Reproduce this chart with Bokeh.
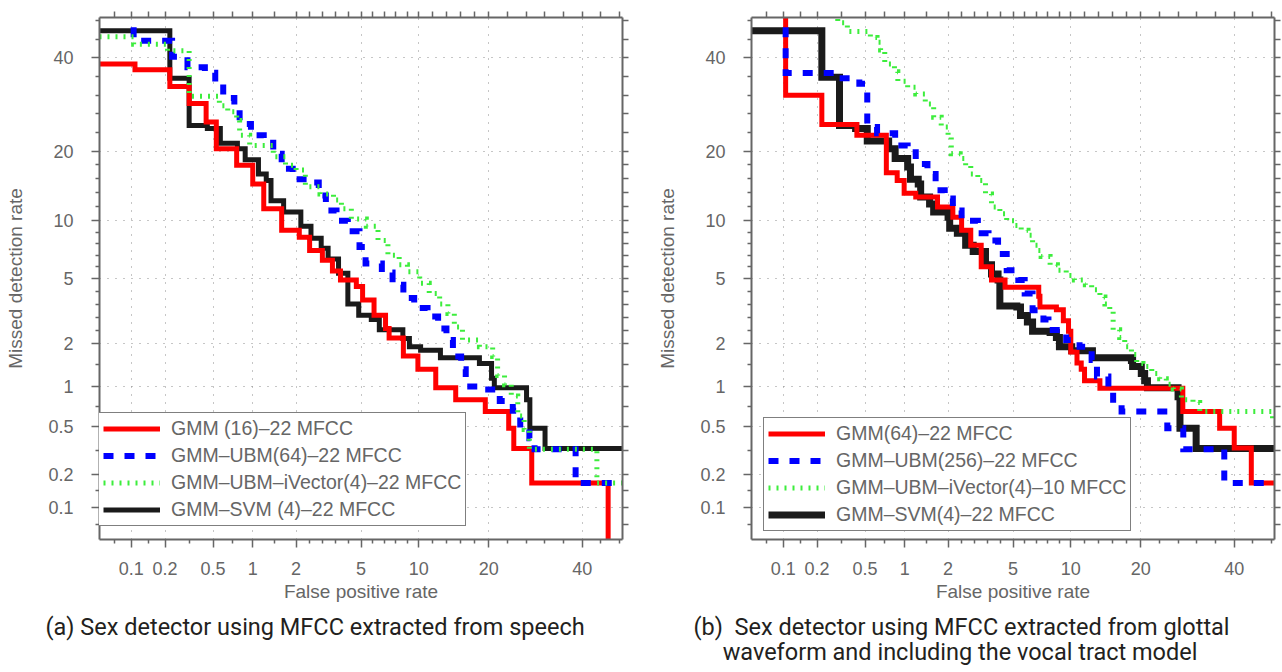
from statistics import NormalDist
from bokeh.plotting import figure
from bokeh.models import (Range1d, LinearAxis, FixedTicker, Grid, CustomJSTickFormatter,
                          Legend, LegendItem, Title)
from bokeh.layouts import row
from bokeh.embed import file_html
from bokeh.resources import INLINE

# ---------------- data (percent) ----------------
tick_pct = [0.1, 0.2, 0.5, 1, 2, 5, 10, 20, 40]
tick_lbl = ["0.1", "0.2", "0.5", "1", "2", "5", "10", "20", "40"]

# panel (a)
a_labels = ["GMM (16)\u201322 MFCC", "GMM\u2013UBM(64)\u201322 MFCC",
            "GMM\u2013UBM\u2013iVector(4)\u201322 MFCC", "GMM\u2013SVM (4)\u201322 MFCC"]
a_red_fpr = [0.05, 0.108, 0.22, 0.32, 0.44, 0.53, 0.76, 1.0, 1.2, 1.6, 2.1, 2.45, 2.95, 3.4, 3.8,
             4.7, 5.1, 5.9, 6.8, 7.1, 8.4, 9.9, 12, 14.7, 19.4, 23.7, 24.7, 28.4, 46.4]
a_red_miss = [38.5, 37.1, 33.2, 29.4, 25.5, 20.4, 17.6, 14.7, 11.4, 9.0, 8.3, 7.1, 6.3, 5.5, 4.9,
              4.5, 3.75, 3.03, 2.5, 2.17, 1.64, 1.33, 0.98, 0.8, 0.65, 0.48, 0.33, 0.167, 0.01]
a_blue_fpr = [0.05, 0.105, 0.23, 0.31, 0.43, 0.52, 0.6, 0.73, 0.8, 0.97, 1.2, 1.4, 1.6, 1.9, 2.4,
              2.8, 3.1, 3.6, 4.2, 4.9, 5.3, 6.5, 7.4, 8.4, 9.5, 11, 12.3, 13.4, 14.3, 15.5,
              16.2, 19, 22, 24.5, 26, 27.9, 29, 38.4]
a_blue_miss = [60, 44.2, 40.2, 37.7, 36.4, 34.2, 30.6, 28.7, 25.1, 22.9, 21.5, 19.5, 17.0, 15.4, 14.9,
               13.1, 11.2, 10.0, 8.9, 7.4, 6.05, 5.4, 4.6, 3.85, 3.35, 2.97, 2.5, 2.1, 1.63, 1.33,
               1.0, 0.95, 0.78, 0.66, 0.48, 0.4, 0.325, 0.167]
a_green_fpr = [0.05, 0.105, 0.21, 0.32, 0.56, 0.65, 0.76, 0.8, 0.95, 1.4, 1.7, 2.0, 2.3, 2.85, 3.45,
               3.85, 4.4, 5.35, 6.2, 7.0, 8.0, 8.8, 10.1, 11.2, 12.5, 13.6, 14.5, 15.7, 18.4, 20.7,
               21.6, 22.9, 24.2, 25.5, 26.8, 27.9, 43.6]
a_green_miss = [45.2, 43.3, 41.7, 31.0, 28.9, 27.6, 25.8, 22.9, 21.0, 19.0, 17.6, 16.8, 14.3, 13.3, 12.5,
                11.4, 10.2, 9.4, 8.0, 6.7, 5.95, 5.45, 4.7, 4.1, 3.55, 3.1, 2.55, 2.1, 1.9, 1.63,
                1.2, 1.03, 0.85, 0.6, 0.47, 0.325, 0.167]
a_black_fpr = [0.05, 0.22, 0.32, 0.45, 0.57, 0.77, 0.88, 1.1, 1.25, 1.35, 1.65, 2.15, 2.5, 2.9, 3.2,
               3.7, 4.2, 4.85, 5.7, 6.3, 8.35, 9.0, 10.2, 12.6, 18.4, 20.5, 21, 27.3, 28, 31.3]
a_black_miss = [46.7, 35.1, 24.8, 24.2, 21.4, 20.4, 18.5, 16.2, 15.2, 12.4, 11.0, 9.4, 8.2, 7.3, 6.4,
                5.35, 3.55, 3.03, 2.85, 2.45, 2.15, 1.9, 1.8, 1.6, 1.46, 1.15, 0.98, 0.8, 0.48, 0.33]

# panel (b)
b_labels = ["GMM(64)\u201322 MFCC", "GMM\u2013UBM(256)\u201322 MFCC",
            "GMM\u2013UBM\u2013iVector(4)\u201310 MFCC", "GMM\u2013SVM(4)\u201322 MFCC"]
b_red_fpr = [0.05, 0.105, 0.22, 0.43, 0.73, 0.88, 0.99, 1.2, 1.7, 2.15, 2.45, 2.8, 3.25, 3.75, 4.5,
             6.9, 7.0, 8.5, 9.2, 9.75, 10.0, 10.7, 11.2, 11.6, 13.6, 28.2, 36.5, 40, 44.2]
b_red_miss = [60, 31.2, 25.0, 22.9, 16.4, 15.2, 13.4, 12.9, 11.6, 10.4, 9.0, 7.55, 5.8, 4.9, 4.45,
              3.95, 3.4, 3.27, 2.8, 2.4, 1.75, 1.47, 1.33, 1.1, 0.97, 0.65, 0.48, 0.333, 0.167]
b_blue_fpr = [0.05, 0.105, 0.3, 0.45, 0.52, 0.62, 0.85, 1.05, 1.2, 1.45, 1.65, 1.9, 2.15, 2.45, 3.1,
              3.6, 4.1, 4.6, 5.35, 5.8, 6.4, 7.3, 7.75, 9.5, 11.0, 12.5, 13.2, 14.8, 15.5, 16.8,
              25, 28.3, 37.6]
b_blue_miss = [60, 36.3, 35.1, 33.8, 24.5, 23.3, 21.0, 19.8, 17.8, 16.2, 13.8, 12.7, 11.2, 10.0, 8.7,
               8.0, 6.8, 5.55, 4.9, 4.1, 3.25, 2.85, 2.44, 2.1, 1.9, 1.54, 1.18, 0.96, 0.75, 0.65,
               0.48, 0.325, 0.167]
b_green_fpr = [0.05, 0.3, 0.36, 0.55, 0.62, 0.66, 0.71, 0.84, 0.89, 1.05, 1.2, 1.4, 1.6, 1.8, 2.0,
               2.1, 2.4, 2.6, 2.8, 3.1, 3.45, 3.75, 4.2, 4.6, 5.1, 5.55, 6.05, 6.4, 6.8, 7.1,
               7.9, 8.6, 9.5, 10.4, 11.7, 12.5, 13.6, 14.3, 15.0, 15.5, 16.5, 17.3, 18.4, 19.3, 20.4,
               22, 23.5, 24.8, 26.2, 27.9, 30.4, 31.9, 49.5]
b_green_miss = [60, 48.7, 46.5, 45.0, 43.8, 41.9, 38.5, 36.6, 34.4, 33.0, 31.5, 29.3, 26.5, 24.5, 22.6,
                19.5, 18.7, 17.5, 16.2, 15.2, 13.3, 11.6, 10.8, 10.0, 9.5, 9.0, 8.5, 7.55, 7.1, 6.6,
                5.95, 5.55, 5.2, 4.9, 4.6, 4.3, 3.9, 3.55, 3.25, 2.45, 2.18, 1.9, 1.68, 1.46, 1.39,
                1.24, 1.14, 1.04, 0.96, 0.8, 0.76, 0.65, 0.53]
b_black_fpr = [0.05, 0.22, 0.31, 0.42, 0.52, 0.76, 0.85, 1.05, 1.1, 1.25, 1.3, 1.5, 1.6, 2.0, 2.05,
               2.3, 2.6, 2.9, 3.45, 3.75, 4.1, 4.2, 5.25, 5.5, 6.0, 6.4, 7.9, 8.5, 8.8, 10.1,
               12.6, 18.4, 18.6, 20.1, 20.7, 21.2, 27.2, 27.6, 31.1]
b_black_miss = [46.7, 35.3, 24.8, 24.2, 21.8, 20.4, 18.7, 17.3, 15.4, 14.7, 12.9, 12.0, 11.0, 10.4, 9.2,
                8.7, 7.55, 7.0, 5.95, 5.3, 4.9, 3.45, 3.4, 3.02, 2.75, 2.4, 2.35, 2.18, 1.9, 1.78,
                1.6, 1.53, 1.39, 1.24, 1.1, 0.98, 0.84, 0.48, 0.33]

caption_a = "(a) Sex detector using MFCC extracted from speech"
caption_b = ("(b)\u00a0 Sex detector using MFCC extracted from glottal\n"
             "\u00a0\u00a0\u00a0\u00a0\u00a0waveform and including the vocal tract model")

# ---------------- helpers ----------------
ND = NormalDist()


def probit(pct):
    return ND.inv_cdf(pct / 100.0)


LO = probit(0.05)
HI = 0.0

mp = [probit(v) for v in tick_pct]
subdiv = [2, 2, 2, 2, 5, 5, 5, 5]
minor = [mp[0] - (mp[1] - mp[0]) / 2]
for a, b, n in zip(mp[:-1], mp[1:], subdiv):
    minor += [a + (b - a) * k / n for k in range(1, n)]
stp = (mp[-1] - mp[-2]) / 5
minor += [mp[-1] + stp, mp[-1] + 2 * stp]

GRAY = "#666666"
FONT = "Liberation Sans"
CAP_FONT = "Roboto"


def step_path(fpr, miss):
    xs, ys = [], []
    n = len(fpr)
    for i in range(n):
        nxt = fpr[i + 1] if i + 1 < n else 50.0
        yv = probit(miss[i])
        xs += [probit(fpr[i]), probit(nxt)]
        ys += [yv, yv]
    return xs, ys


def style_axis(ax):
    ax.axis_line_color = GRAY
    ax.axis_line_width = 2
    ax.major_tick_line_color = GRAY
    ax.major_tick_line_width = 1.5
    ax.minor_tick_line_color = GRAY
    ax.minor_tick_line_width = 1.5
    ax.major_tick_in = 0
    ax.minor_tick_in = 0


def make_panel(curves, labels, min_left, min_right, legend_loc, black_w, caption, cap_offset):
    p = figure(width=641, height=672, x_range=Range1d(LO, HI), y_range=Range1d(LO, HI),
               x_axis_type=None, y_axis_type=None, toolbar_location=None, tools="",
               output_backend="svg", min_border_left=min_left, min_border_right=min_right,
               min_border_top=17, min_border_bottom=132, outline_line_color=None)
    ticker = FixedTicker(ticks=mp, minor_ticks=minor)
    plain_ticker = FixedTicker(ticks=[], minor_ticks=mp + minor)
    fmt = CustomJSTickFormatter(args=dict(vals=mp, labs=tick_lbl), code="""
        let best = 0, bd = 1e9;
        for (let i = 0; i < vals.length; i++) {
            const d = Math.abs(vals[i] - tick);
            if (d < bd) { bd = d; best = i; }
        }
        return labs[best];
    """)
    for side in ["below", "left"]:
        ax = LinearAxis(ticker=ticker, formatter=fmt)
        style_axis(ax)
        ax.major_tick_out = 8
        ax.minor_tick_out = 4
        ax.major_label_text_font = FONT
        ax.major_label_text_color = GRAY
        ax.major_label_text_font_size = "18px"
        ax.axis_label_text_font = FONT
        ax.axis_label_text_font_style = "normal"
        ax.axis_label_text_color = GRAY
        ax.axis_label_text_font_size = "19px"
        if side == "below":
            ax.major_label_standoff = 14
            ax.axis_label = "False positive rate"
            ax.axis_label_standoff = 3
        else:
            ax.major_label_standoff = 18
            ax.axis_label = "Missed detection rate"
            ax.axis_label_standoff = 19
        p.add_layout(ax, side)
    for side in ["above", "right"]:
        ax = LinearAxis(ticker=plain_ticker, formatter=fmt)
        style_axis(ax)
        ax.minor_tick_out = 6
        ax.major_tick_out = 6
        ax.major_label_standoff = 0
        p.add_layout(ax, side)

    for dim in (0, 1):
        p.add_layout(Grid(dimension=dim, ticker=ticker, grid_line_color="#8c8c8c",
                          grid_line_dash="1 7", grid_line_width=1))

    (rf, rm), (bf, bm), (gf, gm), (kf, km) = curves
    kx, ky = step_path(kf, km)
    rx, ry = step_path(rf, rm)
    bx, by = step_path(bf, bm)
    gx, gy = step_path(gf, gm)
    rk = p.line(kx, ky, line_color="#1a1a1a", line_width=black_w, line_join="miter")
    rr = p.line(rx, ry, line_color="#ff0000", line_width=5, line_join="miter")
    rb = p.line(bx, by, line_color="#0000ff", line_width=6, line_dash="10 11",
                line_join="miter", line_cap="butt")
    rg = p.line(gx, gy, line_color="#3ded3d", line_width=5, line_dash="2 6",
                line_join="miter", line_cap="butt")

    legend = Legend(items=[LegendItem(label=labels[0], renderers=[rr]),
                           LegendItem(label=labels[1], renderers=[rb]),
                           LegendItem(label=labels[2], renderers=[rg]),
                           LegendItem(label=labels[3], renderers=[rk])],
                    location=legend_loc, orientation="vertical",
                    label_text_font=FONT, label_text_font_size="19.5px", label_text_color=GRAY,
                    glyph_width=57, glyph_height=21, label_standoff=11, label_height=21,
                    padding=4, spacing=4, margin=0,
                    border_line_color="#000000", border_line_width=1.5,
                    background_fill_color="white", background_fill_alpha=1.0)
    p.add_layout(legend, "center")

    t = Title(text=caption, align="left", offset=cap_offset, text_font=CAP_FONT,
              text_font_size="23.5px", text_font_style="normal", text_color="#231f20",
              text_line_height=0.92, standoff=12)
    p.add_layout(t, "below")
    return p


p1 = make_panel([(a_red_fpr, a_red_miss), (a_blue_fpr, a_blue_miss),
                 (a_green_fpr, a_green_miss), (a_black_fpr, a_black_miss)],
                a_labels, 99, 19, (-1, 13), 5, caption_a, -54)
p2 = make_panel([(b_red_fpr, b_red_miss), (b_blue_fpr, b_blue_miss),
                 (b_green_fpr, b_green_miss), (b_black_fpr, b_black_miss)],
                b_labels, 110, 8, (12, 8), 7, caption_b, -58)

layout = row(p1, p2)
open("out.html", "w").write(file_html(layout, INLINE))
